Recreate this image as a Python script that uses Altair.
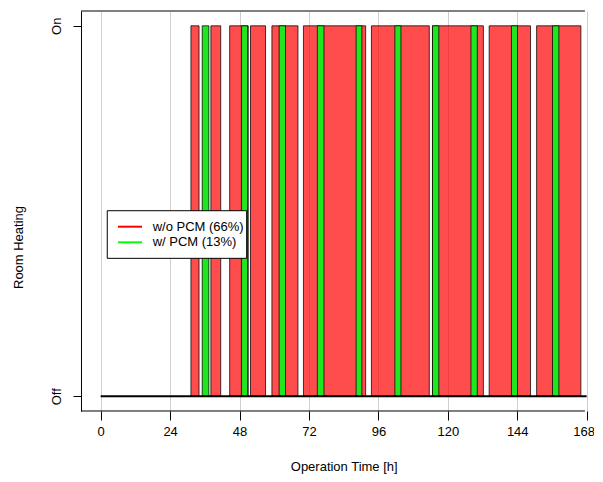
import altair as alt
import pandas as pd

# ---- data ----
red_start = [31.2, 38.1, 44.6, 51.8, 59.2, 70.1, 93.6, 114.7, 134.3, 150.7]
red_end = [34.0, 41.5, 51.0, 57.0, 68.2, 91.6, 113.6, 132.3, 148.6, 166.0]
green_start = [35.1, 48.7, 61.7, 74.9, 88.3, 101.7, 114.7, 128.0, 142.0, 156.2]
green_end = [37.4, 50.8, 63.9, 77.2, 90.3, 103.8, 116.9, 130.2, 144.1, 158.4]
x_ticks = [0, 24, 48, 72, 96, 120, 144, 168]
state_values = [0, 1]
state_labels = ["Off", "On"]
legend_labels = ["w/o PCM (66%)", "w/ PCM (13%)"]
legend_colors = ["#FF0000", "#00FF00"]
time_span = [0, 168]

FONT = "Liberation Sans"
X_DOMAIN = [-6.8, 168.6]
Y_DOMAIN = [-0.04, 1.04]
FRAME_X = [-6.8, 167.4]

xs = alt.Scale(domain=X_DOMAIN, nice=False, zero=False)
ys = alt.Scale(domain=Y_DOMAIN, nice=False, zero=False)

red_df = pd.DataFrame({"start": red_start, "end": red_end, "lo": 0, "hi": 1})
green_df = pd.DataFrame({"start": green_start, "end": green_end, "lo": 0, "hi": 1})

x_axis = alt.Axis(
    values=x_ticks, grid=True, gridColor="#CFCFCF", gridWidth=1,
    domain=False, tickColor="#000000", tickSize=9, tickWidth=1,
    labelFont=FONT, labelFontSize=13, labelColor="#000000", labelPadding=6,
    labelFlush=False,
    labelOffset={"condition": {"test": "datum.value == 168", "value": -3}, "value": 0},
    title="Operation Time [h]", titleFont=FONT, titleFontSize=13,
    titleFontWeight="normal", titleColor="#000000",
    titleX=262.7, titleY=55.5, titleAlign="center", titleBaseline="middle",
)
label_expr = "datum.value == 1 ? '" + state_labels[1] + "' : '" + state_labels[0] + "'"
y_axis = alt.Axis(
    values=state_values, labelExpr=label_expr, grid=False,
    domain=True, domainColor="#000000", domainWidth=1,
    tickColor="#000000", tickSize=8, tickWidth=1,
    labelFont=FONT, labelFontSize=13, labelColor="#000000",
    labelAngle=270, labelAlign="center", labelBaseline="alphabetic", labelPadding=12,
    title="Room Heating", titleFont=FONT, titleFontSize=13,
    titleFontWeight="normal", titleColor="#000000",
    titleAngle=270, titleX=-62, titleY=236, titleAlign="center", titleBaseline="middle",
)


def X(field):
    return alt.X(field, scale=xs, axis=x_axis)


def Y(field):
    return alt.Y(field, scale=ys, axis=y_axis)


red = alt.Chart(red_df).mark_rect(
    fill="#FF0000", fillOpacity=0.7, stroke="#000000", strokeOpacity=0.75, strokeWidth=1
).encode(x=X("start:Q"), x2="end:Q", y=Y("lo:Q"), y2="hi:Q")

green = alt.Chart(green_df).mark_rect(
    fill="#1FE61F", fillOpacity=1, stroke="#000000", strokeOpacity=0.75, strokeWidth=1
).encode(x=X("start:Q"), x2="end:Q", y=Y("lo:Q"), y2="hi:Q")

base_df = pd.DataFrame({"a": [time_span[0]], "b": [time_span[1]], "y": [0]})
baseline = alt.Chart(base_df).mark_rule(color="#000000", strokeWidth=2).encode(
    x=X("a:Q"), x2="b:Q", y=Y("y:Q"),
)

frame_df = pd.DataFrame({"a": [FRAME_X[0]] * 2, "b": [FRAME_X[1]] * 2, "y": Y_DOMAIN})
frame = alt.Chart(frame_df).mark_rule(color="#000000", strokeWidth=1).encode(
    x=X("a:Q"), x2="b:Q", y=Y("y:Q"),
)

# ---- legend (drawn manually, R style) ----
box_df = pd.DataFrame({"x": [2.28], "x2": [50.47], "y": [0.3722], "y2": [0.5008]})
legend_box = alt.Chart(box_df).mark_rect(
    fill="#FFFFFF", stroke="#000000", strokeWidth=1
).encode(x=X("x:Q"), x2="x2:Q", y=Y("y:Q"), y2="y2:Q")

leg_df = pd.DataFrame({
    "label": legend_labels, "color": legend_colors,
    "x": [5.98, 5.98], "x2": [14.28, 14.28], "tx": [17.97, 17.97],
    "y": [0.4576, 0.4154],
})
legend_lines = alt.Chart(leg_df).mark_rule(strokeWidth=2).encode(
    x=X("x:Q"), x2="x2:Q", y=Y("y:Q"),
    color=alt.Color("color:N", scale=None, legend=None),
)
legend_text = alt.Chart(leg_df).mark_text(
    align="left", baseline="middle", font=FONT, fontSize=13, color="#000000"
).encode(x=X("tx:Q"), y=Y("y:Q"), text="label:N")

chart = alt.layer(
    red, green, baseline, frame, legend_box, legend_lines, legend_text
).properties(
    width=507.4, height=400,
    autosize=alt.AutoSizeParams(type="none"),
    padding={"left": 73, "top": 3, "right": 6, "bottom": 63},
).configure_view(stroke=None)

chart.save("out.html", embed_options={"renderer": "svg", "actions": False})
